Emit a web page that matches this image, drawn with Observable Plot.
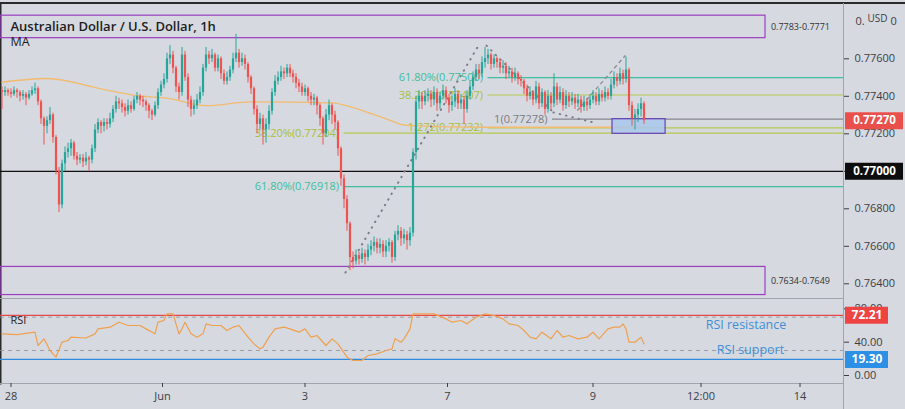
<!DOCTYPE html>
<html><head><meta charset="utf-8">
<script src="https://cdn.jsdelivr.net/npm/d3@7"></script>
<script src="https://cdn.jsdelivr.net/npm/@observablehq/plot@0.6"></script>
<style>
html,body{margin:0;padding:0;background:#d6d9e0;}
#chart{position:relative;width:905px;height:409px;overflow:hidden;background:#d6d9e0;font-family:"Open Sans",sans-serif;}
#chart svg{position:absolute;left:0;overflow:visible;}
.topline{position:absolute;left:0;top:2px;width:905px;height:1.5px;background:#2a2a2a;}
.vsep{position:absolute;left:843px;top:383px;width:1px;height:26px;background:#a0a4ad;}
</style></head><body><div id="chart"><div class="topline"></div><div class="vsep"></div></div>
<script>
// ---------- DATA (prices in pips: price * 10000) ----------
const firstOpen = 7743;
const closes = [
7742,7743,7742,7741,7743,7742,7740,7741,7739,7741,7743,7744,
7737,7728,7724,7727,7730,7718,7700,7682,7704,7710,7712,7715,
7708,7706,7707,7705,7707,7706,7712,7722,7726,7724,7726,7725,
7728,7733,7737,7736,7734,7732,7735,7733,7738,7740,7738,7737,
7735,7732,7730,7735,7742,7746,7749,7760,7762,7755,7745,7742,
7762,7750,7738,7733,7735,7738,7742,7755,7762,7760,7762,7755,
7760,7752,7748,7750,7754,7760,7763,7758,7760,7757,7750,7744,
7733,7725,7728,7722,7725,7732,7742,7748,7750,7753,7752,7755,
7752,7750,7747,7745,7742,7744,7740,7738,7739,7735,7728,7720,
7730,7735,7730,7726,7712,7696,7685,7672,7654,7652,7655,7653,
7656,7654,7658,7660,7662,7659,7661,7657,7660,7662,7654,7666,
7668,7664,7666,7663,7667,7710,7737,7740,7737,7740,7741,7738,
7742,7736,7740,7743,7739,7735,7737,7741,7736,7738,7733,7740,
7745,7750,7754,7752,7758,7760,7762,7757,7760,7758,7755,7756,
7752,7753,7750,7752,7749,7748,7744,7740,7742,7738,7745,7736,
7742,7733,7740,7736,7745,7738,7742,7735,7740,7737,7739,7736,
7738,7734,7737,7735,7738,7740,7737,7741,7739,7742,7740,7746,
7750,7748,7752,7749,7754,7735,7728,7730,7733,7736,7727];
const highs = [
7745,7745,7744,7744,7745,7744,7743,7743,7742,7743,7745,7747,
7745,7738,7729,7729,7734,7731,7719,7702,7706,7713,7715,7717,
7716,7710,7709,7709,7710,7708,7714,7725,7728,7727,7728,7728,
7731,7735,7740,7739,7738,7736,7738,7737,7740,7742,7741,7740,
7738,7736,7733,7737,7744,7748,7752,7763,7767,7764,7756,7747,
7766,7764,7752,7740,7738,7741,7745,7757,7766,7764,7765,7763,
7762,7761,7754,7753,7756,7763,7773,7765,7763,7762,7758,7751,
7745,7735,7731,7730,7728,7735,7744,7751,7753,7756,7755,7757,
7757,7754,7752,7749,7747,7746,7745,7742,7741,7740,7736,7729,
7733,7738,7736,7732,7727,7713,7698,7687,7673,7657,7658,7657,
7659,7658,7661,7663,7665,7664,7664,7663,7663,7664,7663,7668,
7671,7670,7669,7668,7670,7712,7740,7743,7742,7743,7744,7743,
7745,7744,7742,7746,7745,7741,7740,7744,7743,7741,7740,7743,
7748,7753,7757,7757,7761,7766,7765,7763,7762,7761,7760,7759,
7758,7756,7755,7755,7753,7751,7749,7746,7745,7743,7748,7747,
7744,7743,7743,7742,7752,7747,7745,7744,7743,7742,7742,7741,
7741,7740,7740,7739,7741,7743,7742,7744,7743,7745,7744,7749,
7753,7752,7755,7754,7761,7755,7737,7733,7736,7739,7737];
const lows = [
7733,7740,7740,7739,7740,7739,7737,7738,7735,7738,7740,7741,
7735,7725,7714,7720,7725,7715,7698,7678,7680,7700,7707,7708,
7706,7703,7704,7702,7703,7700,7704,7710,7720,7720,7721,7722,
7723,7726,7731,7733,7731,7729,7730,7731,7732,7736,7735,7734,
7732,7728,7727,7729,7733,7740,7744,7747,7757,7752,7742,7738,
7740,7748,7734,7729,7730,7733,7736,7740,7753,7757,7758,7753,
7753,7749,7746,7746,7748,7752,7758,7755,7756,7754,7747,7741,
7730,7720,7722,7714,7715,7722,7730,7740,7746,7748,7749,7750,
7750,7747,7744,7742,7740,7740,7737,7735,7735,7730,7724,7714,
7718,7727,7725,7722,7708,7692,7680,7668,7647,7648,7650,7650,
7651,7650,7652,7655,7657,7656,7656,7654,7654,7657,7651,7652,
7663,7660,7661,7658,7660,7665,7706,7733,7733,7735,7737,7734,
7735,7732,7733,7738,7736,7731,7732,7734,7733,7733,7725,7731,
7738,7743,7748,7749,7750,7755,7757,7754,7755,7755,7752,7752,
7749,7750,7747,7748,7746,7745,7741,7737,7738,7735,7736,7733,
7734,7730,7731,7733,7734,7735,7736,7732,7733,7734,7735,7733,
7734,7731,7732,7732,7733,7736,7735,7735,7737,7737,7738,7738,
7744,7745,7746,7746,7747,7732,7724,7722,7726,7729,7725];

// moving average (bar index, pips)
const maIdx = [0,15,33,44,55,68,83,110,117,128,135,162,214];
const maVal = [7747.5,7749.5,7744,7740.5,7739,7735,7737,7736.5,7734,7728,7724.5,7723.5,7723.5];

// RSI (bar index, value)
const rsiIdx = [0,5,11,12,14,16,18,20,22,23,28,31,32,36,39,42,46,48,51,52,54,55,57,58,59,60,61,63,65,67,68,70,73,75,77,79,82,84,86,87,89,91,94,96,99,101,103,105,108,110,112,115,117,120,122,125,128,130,131,133,134,136,137,139,144,148,150,153,155,158,161,164,167,169,172,174,176,178,180,183,185,187,189,192,195,197,199,202,204,206,207,208,209,211,213,214];
const rsiVal = [50,49,52,36,44,30,22,40,42,46,45,50,56,58,64,60,60,56,50,64,66,74,74,62,50,56,64,50,46,50,62,60,60,54,58,60,46,38,32,34,46,56,58,56,52,56,46,48,36,44,38,22,18,18,24,26,30,32,44,40,44,56,74,74,74,68,64,66,62,70,74,72,68,62,60,54,46,44,52,44,54,46,48,44,46,52,44,56,58,58,62,56,40,40,46,38];
const rsiResistance = 72.21, rsiSupport = 19.30;
const rsiTicks = [0, 40, 80];
const rsiNotes = ["RSI resistance", "RSI support"];
const rsiNoteIdx = [248, 249.5];
const rsiNoteVal = [61, 31];

// Fibonacci levels
const fibLabels = ["61.80%(0.77500)", "38.20%(0.77407)", "1.272(0.77232)", "38.20%(0.77204)", "61.80%(0.76918)", "1(0.77278)"];
const fibPrices = [0.77500, 0.77407, 0.77232, 0.77204, 0.76918, 0.77278];
const fibStart = [162, 162, 162, 114, 114, 183.5];
const fibKind = ["teal", "lime", "lime", "lime", "teal", "gray"];

// Fib tool trend lines (bar index, price)
const trendX1 = [114.5, 161.5, 183.8, 191.8];
const trendY1 = [0.7646, 0.7767, 0.77314, 0.77324];
const trendX2 = [158.8, 183.8, 197.2, 207.8];
const trendY2 = [0.7767, 0.77314, 0.7726, 0.77618];
const trendKind = ["dot", "dot", "dot", "dash"];

// zones
const zoneLabels = ["0.7783-0.7771", "0.7634-0.7649"];
const zoneLo = [0.7771, 0.7634];
const zoneHi = [0.7783, 0.7649];
const zoneEnd = 254.5;
const boxX = [203.5, 221.2];
const boxY = [0.77200, 0.77278];

const lastPrice = 0.77270;
const keyLevel = 0.77000;
const yTicks = [0.776, 0.774, 0.772, 0.770, 0.768, 0.766, 0.764];
const xTickIdx = [3, 53.5, 101, 148.5, 197, 233, 266];
const xTickLabels = ["28", "Jun", "3", "7", "9", "12:00", "14"];
const title = "Australian Dollar / U.S. Dollar, 1h";

// ---------- BUILD ----------
const candles = closes.map((c, i) => ({
  i, open: (i === 0 ? firstOpen : closes[i - 1]) / 1e4, close: c / 1e4,
  high: highs[i] / 1e4, low: lows[i] / 1e4
}));
const GREEN = "#26a69a", RED = "#ef5350";
const col = d => d.close >= d.open ? GREEN : RED;
const ma = maIdx.map((x, k) => ({x, y: maVal[k] / 1e4}));
const rsi = rsiIdx.map((x, k) => ({x, y: rsiVal[k]}));
const fibColor = {teal: "#3fbf9e", lime: "#b3c94e", gray: "#85858f"};
const fibText = {teal: "#3cbf9c", lime: "#a7bf3c", gray: "#7b7b85"};
const fibs = fibLabels.map((label, k) => ({label, price: fibPrices[k], start: fibStart[k], kind: fibKind[k]}));
const trends = trendX1.map((x1, k) => ({x1, y1: trendY1[k], x2: trendX2[k], y2: trendY2[k], kind: trendKind[k]}));
const zones = zoneLabels.map((label, k) => ({label, lo: zoneLo[k], hi: zoneHi[k]}));
const xLabelMap = new Map(xTickIdx.map((d, k) => [d, xTickLabels[k]]));

const xScale = {domain: [-0.5, 280.5], range: [0, 843], axis: null};
const font = "'Open Sans', sans-serif";
const AX = "#3b3e46";

const pricePlot = Plot.plot({
  width: 905, height: 298,
  marginLeft: 0, marginRight: 62, marginTop: 3, marginBottom: 0,
  x: xScale,
  y: {domain: [0.764, 0.776], range: [283.3, 58.3], axis: null},
  style: {background: "transparent", fontFamily: font, overflow: "visible"},
  marks: [
    Plot.frame({anchor: "left", stroke: "#2a2a2a", strokeWidth: 2}),
    Plot.frame({anchor: "right", stroke: "#a0a4ad"}),
    Plot.rect(zones, {x1: -0.5, x2: zoneEnd, y1: "lo", y2: "hi", fill: "none", stroke: "#9b3ec0", strokeWidth: 1.2}),
    Plot.text(zones, {x: zoneEnd + 1.8, y: d => (d.lo + d.hi) / 2, text: "label", textAnchor: "start", fontSize: 9, fill: "#333"}),
    Plot.ruleY([keyLevel], {stroke: "#111", strokeWidth: 1.3}),
    Plot.ruleY(fibs, {y: "price", x1: "start", x2: 280.5, stroke: d => fibColor[d.kind], strokeWidth: 1.2}),
    Plot.text(fibs, {x: "start", y: "price", text: "label", textAnchor: "end", dx: -5, fontSize: 11, fill: d => fibText[d.kind]}),
    Plot.line(ma, {x: "x", y: "y", stroke: "#f3bb6e", strokeWidth: 1.3, curve: "monotone-x"}),
    Plot.link(trends.filter(d => d.kind === "dot"), {x1: "x1", y1: "y1", x2: "x2", y2: "y2", stroke: "#7d7d8a", strokeWidth: 2, strokeDasharray: "0.5,6", strokeLinecap: "round"}),
    Plot.link(trends.filter(d => d.kind === "dash"), {x1: "x1", y1: "y1", x2: "x2", y2: "y2", stroke: "#8a8a96", strokeWidth: 1.3, strokeDasharray: "4,3"}),
    Plot.rect([0], {x1: boxX[0], x2: boxX[1], y1: boxY[0], y2: boxY[1], fill: "#a9c7ec", fillOpacity: 0.85, stroke: "#6a3fb5", strokeWidth: 1.2}),
    Plot.ruleX(candles, {x: "i", y1: "low", y2: "high", stroke: col, strokeWidth: 1}),
    Plot.ruleX(candles, {x: "i", y1: "open", y2: "close", stroke: col, strokeWidth: 2.2}),
    Plot.text([title], {frameAnchor: "top-left", dx: 10, dy: 18, text: d => d, textAnchor: "start", fontSize: 13, fontWeight: 600, fill: "#1e1e22"}),
    Plot.text(["MA"], {frameAnchor: "top-left", dx: 10, dy: 34, text: d => d, textAnchor: "start", fontSize: 12.5, fill: "#1e1e22"}),
    Plot.axisY(yTicks, {anchor: "right", tickFormat: d => d.toFixed(5), tickSize: 5, tickPadding: 6, fontSize: 11, color: AX, label: null}),
    Plot.text(["0."], {y: 0.778, frameAnchor: "right", dx: 12, text: d => d, textAnchor: "start", fontSize: 11, fill: AX}),
    Plot.text(["USD"], {y: 0.778, frameAnchor: "right", dx: 24, dy: -3, text: d => d, textAnchor: "start", fontSize: 10, fill: AX}),
    Plot.text(["0"], {y: 0.778, frameAnchor: "right", dx: 47, text: d => d, textAnchor: "start", fontSize: 11, fill: AX}),
    Plot.ruleY([lastPrice], {stroke: "#e9504c", strokeWidth: 17, insetLeft: 845, insetRight: -60}),
    Plot.text([lastPrice], {y: d => d, frameAnchor: "right", dx: 31, textAnchor: "middle", text: d => d.toFixed(5), fontSize: 11.5, fontWeight: 700, fill: "#fff"}),
    Plot.ruleY([keyLevel], {stroke: "#0d0d0d", strokeWidth: 17, insetLeft: 845, insetRight: -60}),
    Plot.text([keyLevel], {y: d => d, frameAnchor: "right", dx: 31, textAnchor: "middle", text: d => d.toFixed(5), fontSize: 11.5, fontWeight: 700, fill: "#fff"})
  ]
});
pricePlot.style.top = "0px";

const rsiPlot = Plot.plot({
  width: 905, height: 111,
  marginLeft: 0, marginRight: 62, marginTop: 0, marginBottom: 26,
  x: xScale,
  y: {domain: [0, 100], range: [77, -6.3], axis: null},
  style: {background: "transparent", fontFamily: font, overflow: "visible"},
  marks: [
    Plot.frame({anchor: "left", stroke: "#2a2a2a", strokeWidth: 2}),
    Plot.frame({anchor: "top", stroke: "#a0a4ad"}),
    Plot.frame({anchor: "bottom", stroke: "#a0a4ad"}),
    Plot.frame({anchor: "right", stroke: "#a0a4ad"}),
    Plot.ruleY([70, 30], {stroke: "#8d9099", strokeDasharray: "4,4", strokeOpacity: 0.8}),
    Plot.ruleY([rsiResistance], {stroke: "#e64a47", strokeWidth: 1.3}),
    Plot.ruleY([rsiSupport], {stroke: "#2d8be0", strokeWidth: 1.3}),
    Plot.line(rsi, {x: "x", y: "y", stroke: "#f0a04e", strokeWidth: 1.2}),
    Plot.text(rsiNotes, {x: (d, k) => rsiNoteIdx[k], y: (d, k) => rsiNoteVal[k], text: d => d, fontSize: 12.5, fill: "#3f8fd8"}),
    Plot.text(["RSI"], {frameAnchor: "top-left", dx: 10, dy: 18, text: d => d, textAnchor: "start", fontSize: 11, fill: "#1e1e22"}),
    Plot.axisY(rsiTicks, {anchor: "right", tickFormat: d => d.toFixed(2), tickSize: 5, tickPadding: 6, fontSize: 11, color: AX, label: null}),
    Plot.ruleY([rsiResistance], {stroke: "#ef4444", strokeWidth: 17, insetLeft: 845, insetRight: -45}),
    Plot.text([rsiResistance], {y: d => d, frameAnchor: "right", dx: 23.5, textAnchor: "middle", text: d => d.toFixed(2), fontSize: 12, fontWeight: 700, fill: "#fff"}),
    Plot.ruleY([rsiSupport], {stroke: "#2b90e6", strokeWidth: 17, insetLeft: 845, insetRight: -45}),
    Plot.text([rsiSupport], {y: d => d, frameAnchor: "right", dx: 23.5, textAnchor: "middle", text: d => d.toFixed(2), fontSize: 12, fontWeight: 700, fill: "#fff"}),
    Plot.axisX(xTickIdx, {anchor: "bottom", tickFormat: d => xLabelMap.get(d), tickSize: 4, tickPadding: 5, fontSize: 11, color: AX, label: null})
  ]
});
rsiPlot.style.top = "298px";

const chart = document.getElementById("chart");
chart.appendChild(pricePlot);
chart.appendChild(rsiPlot);
</script>
</body></html>
